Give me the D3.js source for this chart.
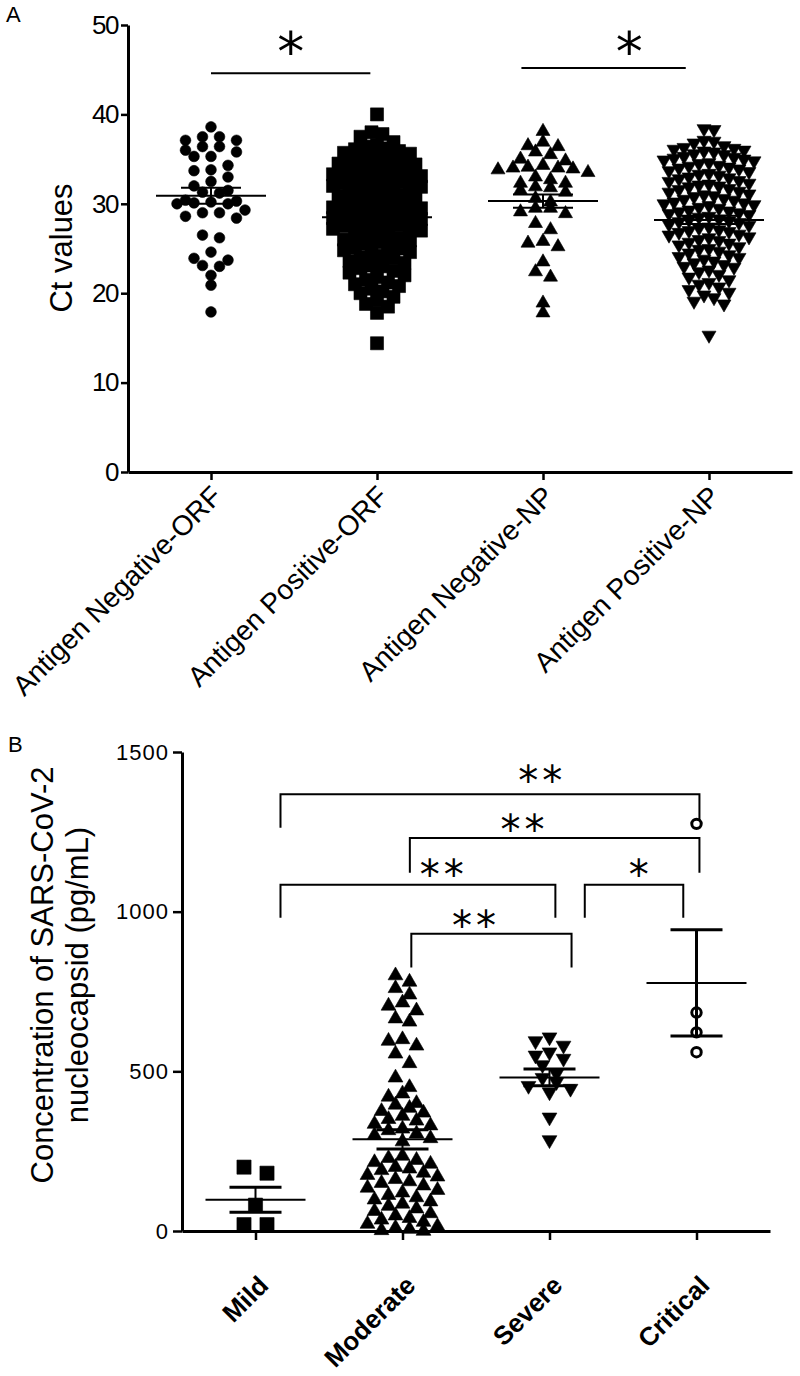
<!DOCTYPE html>
<html><head><meta charset="utf-8">
<script src="https://cdn.jsdelivr.net/npm/d3@7"></script>
<style>
body{margin:0;background:#fff}
svg{display:block}
text{font-family:"Liberation Sans",Arial,sans-serif;fill:#000}
</style>
</head><body>
<svg id="chart" width="800" height="1376"></svg>
<script>
// ---------------- DATA ----------------
const groupsA = ["Antigen Negative-ORF", "Antigen Positive-ORF", "Antigen Negative-NP", "Antigen Positive-NP"];
const ticksA = [0, 10, 20, 30, 40, 50];
const negOrf = [38.6, 37.5, 37.5, 37.1, 37.1, 36.4, 36.0, 36.4, 35.3, 35.3, 35.8, 34.3, 33.8, 33.7, 33.0, 32.5, 32.0, 31.3, 31.2, 31.5,
  30.3, 30.1, 30.2, 30.4, 30.0, 30.0, 29.3, 29.0, 29.0, 28.4, 28.6, 26.5, 26.2, 24.6, 23.9, 23.7, 23.1, 23.0, 22.0, 20.9, 17.9];
const posOrf = [40.0, 38.0, 37.8, 37.5,
  36.9, 36.6, 36.4, 36.2, 36.1,
  35.9, 35.7, 35.6, 35.4, 35.2, 35.1, 35.0,
  34.9, 34.7, 34.5, 34.4, 34.2, 34.1, 34.0,
  33.9, 33.8, 33.6, 33.4, 33.3, 33.1, 33.0,
  32.9, 32.7, 32.6, 32.4, 32.3, 32.1, 32.0,
  31.9, 31.8, 31.6, 31.5, 31.3, 31.2, 31.0,
  30.9, 30.8, 30.6, 30.5, 30.3, 30.2, 30.0,
  29.9, 29.8, 29.6, 29.5, 29.3, 29.2, 29.1, 29.0,
  28.9, 28.7, 28.6, 28.4, 28.3, 28.1, 28.0,
  27.9, 27.8, 27.6, 27.5, 27.3, 27.2, 27.0,
  26.9, 26.7, 26.5, 26.4, 26.2, 26.0,
  25.9, 25.7, 25.5, 25.3, 25.1, 25.0,
  24.8, 24.6, 24.4, 24.2, 24.0,
  23.9, 23.6, 23.4, 23.1, 23.0,
  22.8, 22.5, 22.3, 22.0,
  21.8, 21.5, 21.2, 21.0,
  20.8, 20.5, 20.2, 20.0,
  19.6, 19.2, 18.8, 18.5, 17.8, 14.4];
const negNp = [38.1, 36.9, 36.4, 36.5, 35.8, 35.5, 35.0, 34.8, 34.3, 34.0, 34.0, 33.9, 33.8, 34.1, 33.5, 33.0, 32.7, 32.3, 32.3,
  31.9, 31.8, 31.5, 31.3, 30.6, 30.2, 29.5, 29.5, 29.1, 28.9, 27.8, 27.1, 25.8, 25.6, 25.2, 23.5, 22.4, 21.8, 18.9, 17.8];
const posNp = [38.4, 38.3, 37.1, 37.0,
  36.8, 36.5, 36.3, 36.2, 36.1, 36.0,
  35.9, 35.8, 35.6, 35.5, 35.3, 35.2, 35.1, 35.0,
  34.9, 34.8, 34.6, 34.5, 34.3, 34.2, 34.1, 34.0,
  33.9, 33.7, 33.6, 33.4, 33.3, 33.2, 33.0,
  32.9, 32.8, 32.6, 32.5, 32.3, 32.2, 32.1, 32.0,
  31.9, 31.7, 31.6, 31.4, 31.3, 31.1, 31.0,
  30.9, 30.8, 30.6, 30.5, 30.4, 30.2, 30.1, 30.0,
  29.9, 29.8, 29.6, 29.5, 29.3, 29.2, 29.1, 29.0,
  28.9, 28.8, 28.6, 28.5, 28.3, 28.2, 28.1, 28.0,
  27.9, 27.7, 27.6, 27.4, 27.3, 27.1, 27.0,
  26.9, 26.8, 26.6, 26.5, 26.3, 26.2, 26.0,
  25.9, 25.7, 25.6, 25.4, 25.2, 25.0,
  24.9, 24.7, 24.5, 24.3, 24.1, 24.0,
  23.8, 23.6, 23.4, 23.2, 23.0,
  22.9, 22.6, 22.4, 22.1,
  21.8, 21.5, 21.2, 21.0,
  20.7, 20.4, 20.1,
  19.8, 19.5, 19.1, 18.8, 15.3];
const meansA = [30.9, 28.5, 30.3, 28.2];
const semA = [0.9, 0.45, 0.75, 0.45];
const compA = [
  {x0: 0.0, x1: 0.96, level: 44.6, label: "*", lx: 0.48, ly: 48.3},
  {x0: 1.87, x1: 2.86, level: 45.2, label: "*", lx: 2.52, ly: 48.3}
];

const groupsB = ["Mild", "Moderate", "Severe", "Critical"];
const ticksB = [0, 500, 1000, 1500];
const mild = [200, 181, 81, 20, 20];
const moderate = [800, 780, 760, 740, 715, 705, 690, 665, 655, 600, 595, 580, 555, 525, 480, 450, 430, 420,
  400, 395, 385, 375, 370, 360, 350, 345, 335, 330, 320, 315, 305, 300, 290, 280,
  235, 228, 222, 215, 210, 200, 195, 190, 182, 175, 170, 162, 155, 150, 142, 135, 128, 120, 112, 105,
  98, 92, 85, 78, 70, 62, 55, 48, 40, 35, 28, 22, 15, 10, 6, 2, 0];
const severe = [607, 595, 581, 560, 550, 540, 520, 493, 480, 467, 455, 446, 435, 356, 285];
const critical = [1275, 684, 622, 560];
const meansB = [98, 287, 481, 777];
const semB = [39, 30, 26, 166];
// brackets: endpoints in category-index units, levels in pg/mL
const compB = [
  {x0: 0.17, x1: 3.02, level: 1368, drop0: 1263, drop1: 1285, label: "**", lx: 1.95, ly: 1434},
  {x0: 1.05, x1: 3.02, level: 1231, drop0: 1122, drop1: 1122, label: "**", lx: 1.83, ly: 1281},
  {x0: 0.17, x1: 2.04, level: 1084, drop0: 981, drop1: 981, label: "**", lx: 1.28, ly: 1140},
  {x0: 2.24, x1: 2.91, level: 1084, drop0: 981, drop1: 981, label: "*", lx: 2.62, ly: 1140},
  {x0: 1.06, x1: 2.15, level: 931, drop0: 825, drop1: 825, label: "**", lx: 1.50, ly: 980}
];

// ---------------- HELPERS ----------------
const svg = d3.select("#chart");

function swarm(values, y, rowPx, spacing) {
  const pts = values.map(v => ({v, py: y(v)})).sort((a, b) => a.py - b.py);
  const rows = [];
  let cur = null;
  pts.forEach(p => {
    if (!cur || p.py - cur.start >= rowPx) { cur = {start: p.py, pts: []}; rows.push(cur); }
    cur.pts.push(p);
  });
  rows.forEach(r => {
    const n = r.pts.length;
    const slots = d3.range(n).map(i => (i - (n - 1) / 2) * spacing);
    const order = d3.range(n).sort((a, b) => Math.abs(slots[a]) - Math.abs(slots[b]) || slots[a] - slots[b]);
    r.pts.forEach((p, k) => { p.dx = slots[order[k]]; });
  });
  return pts;
}

function drawGroup(g, values, cx, y, cfg) {
  const pts = swarm(values, y, cfg.row, cfg.spacing);
  const sym = d3.symbol().type(cfg.type).size(cfg.size);
  g.selectAll(null).data(pts).join("path")
    .attr("d", sym)
    .attr("transform", d => `translate(${cx + d.dx},${d.py})${cfg.flip ? " rotate(180)" : ""}`)
    .attr("fill", cfg.open ? "#fff" : "#000")
    .attr("stroke", "#000")
    .attr("stroke-width", cfg.open ? 3 : 0.6);
}

function drawMean(g, cx, y, m, s, halfMean, halfCap, capW, vW) {
  g.append("line").attr("x1", cx - halfMean).attr("x2", cx + halfMean)
    .attr("y1", y(m)).attr("y2", y(m)).attr("stroke", "#000").attr("stroke-width", 2);
  g.append("line").attr("x1", cx).attr("x2", cx)
    .attr("y1", y(m - s)).attr("y2", y(m + s)).attr("stroke", "#000").attr("stroke-width", vW);
  [m - s, m + s].forEach(v => g.append("line").attr("x1", cx - halfCap).attr("x2", cx + halfCap)
    .attr("y1", y(v)).attr("y2", y(v)).attr("stroke", "#000").attr("stroke-width", capW));
}

function styleAxis(g, w) {
  g.select(".domain").attr("stroke", "#000").attr("stroke-width", w);
  g.selectAll(".tick line").attr("stroke", "#000").attr("stroke-width", 2.5);
}

// ---------------- PANEL A ----------------
const xA = d3.scalePoint().domain(groupsA).range([128, 792]).padding(0.5);
const yA = d3.scaleLinear().domain([0, 50]).range([472, 25]);
const idxA = i => xA.range()[0] + (i + 0.5) * xA.step();
const gA = svg.append("g");

gA.append("text").attr("x", 6).attr("y", 22).attr("font-size", 22).text("A");

const yAxA = gA.append("g").attr("transform", "translate(128,0)")
  .call(d3.axisLeft(yA).tickValues(ticksA).tickSize(7).tickSizeOuter(0).tickPadding(3));
styleAxis(yAxA, 3);
yAxA.selectAll(".tick text").attr("font-size", 26).attr("font-family", "Liberation Sans, Arial, sans-serif").attr("letter-spacing", -1.5);

const xAxA = gA.append("g").attr("transform", "translate(0,472)")
  .call(d3.axisBottom(xA).tickSize(8).tickSizeOuter(0));
styleAxis(xAxA, 3);
xAxA.selectAll(".tick text")
  .attr("font-size", 28).attr("font-family", "Liberation Sans, Arial, sans-serif")
  .attr("text-anchor", "end").attr("dy", 0).attr("y", 0)
  .attr("transform", "translate(12,26) rotate(-45)");

gA.append("text").attr("transform", "translate(72,248) rotate(-90)")
  .attr("text-anchor", "middle").attr("font-size", 31).text("Ct values");

const cfgA = [
  {type: d3.symbolCircle, size: 90, row: 9, spacing: 17},
  {type: d3.symbolSquare, size: 170, row: 10, spacing: 11},
  {type: d3.symbolTriangle, size: 85, row: 9, spacing: 15},
  {type: d3.symbolTriangle, size: 85, row: 10, spacing: 10, flip: true}
];
[negOrf, posOrf, negNp, posNp].forEach((vals, i) => drawGroup(gA, vals, xA(groupsA[i]), yA, cfgA[i]));
meansA.forEach((m, i) => drawMean(gA, xA(groupsA[i]), yA, m, semA[i], 55, 30, 2, 2));

compA.forEach(c => {
  gA.append("line").attr("x1", idxA(c.x0)).attr("x2", idxA(c.x1))
    .attr("y1", yA(c.level)).attr("y2", yA(c.level)).attr("stroke", "#000").attr("stroke-width", 2);
  gA.append("text").attr("x", idxA(c.lx)).attr("y", yA(c.ly)).attr("dy", "0.55em")
    .attr("text-anchor", "middle").attr("font-size", 54)
    .style("font-family", "DejaVu Sans, sans-serif").text(c.label);
});

// ---------------- PANEL B ----------------
const xB = d3.scalePoint().domain(groupsB).range([182, 770]).padding(0.5);
const yB = d3.scaleLinear().domain([0, 1500]).range([1231, 752]);
const idxB = i => xB.range()[0] + (i + 0.5) * xB.step();
const gB = svg.append("g");

gB.append("text").attr("x", 8).attr("y", 752).attr("font-size", 22).text("B");

const yAxB = gB.append("g").attr("transform", "translate(182,0)")
  .call(d3.axisLeft(yB).tickValues(ticksB).tickSize(9).tickSizeOuter(0).tickPadding(4).tickFormat(d3.format("d")));
styleAxis(yAxB, 3);
yAxB.selectAll(".tick text").attr("font-size", 22).attr("font-family", "Liberation Sans, Arial, sans-serif").attr("letter-spacing", 1);

const xAxB = gB.append("g").attr("transform", "translate(0,1231)")
  .call(d3.axisBottom(xB).tickSize(9).tickSizeOuter(0));
styleAxis(xAxB, 3);
xAxB.selectAll(".tick text")
  .attr("font-size", 26).attr("font-weight", "bold").attr("font-family", "Liberation Sans, Arial, sans-serif")
  .attr("text-anchor", "end").attr("dy", 0).attr("y", 0)
  .attr("transform", "translate(14,56) rotate(-45)");

const yLab = gB.append("text").attr("transform", "translate(0,975) rotate(-90)")
  .attr("text-anchor", "middle").attr("font-size", 31);
yLab.append("tspan").attr("x", 0).attr("y", 53).text("Concentration of SARS-CoV-2");
yLab.append("tspan").attr("x", 0).attr("y", 88).text("nucleocapsid (pg/mL)");

const cfgB = [
  {type: d3.symbolSquare, size: 200, row: 12, spacing: 23},
  {type: d3.symbolTriangle, size: 95, row: 11, spacing: 14},
  {type: d3.symbolTriangle, size: 95, row: 11, spacing: 14, flip: true},
  {type: d3.symbolCircle, size: 70, row: 12, spacing: 24, open: true}
];
[mild, moderate, severe, critical].forEach((vals, i) => drawGroup(gB, vals, xB(groupsB[i]), yB, cfgB[i]));
meansB.forEach((m, i) => drawMean(gB, xB(groupsB[i]), yB, m, semB[i], 50, 26, 3, i === 3 ? 3 : 2));

compB.forEach(c => {
  const xa = idxB(c.x0), xb = idxB(c.x1), ly = yB(c.level);
  gB.append("path")
    .attr("d", `M${xa},${yB(c.drop0)}V${ly}H${xb}V${yB(c.drop1)}`)
    .attr("fill", "none").attr("stroke", "#000").attr("stroke-width", 2);
  gB.append("text").attr("x", idxB(c.lx)).attr("y", yB(c.ly)).attr("dy", "0.55em")
    .attr("text-anchor", "middle").attr("font-size", 40).attr("letter-spacing", 4)
    .style("font-family", "DejaVu Sans, sans-serif").text(c.label);
});
</script>
</body></html>
